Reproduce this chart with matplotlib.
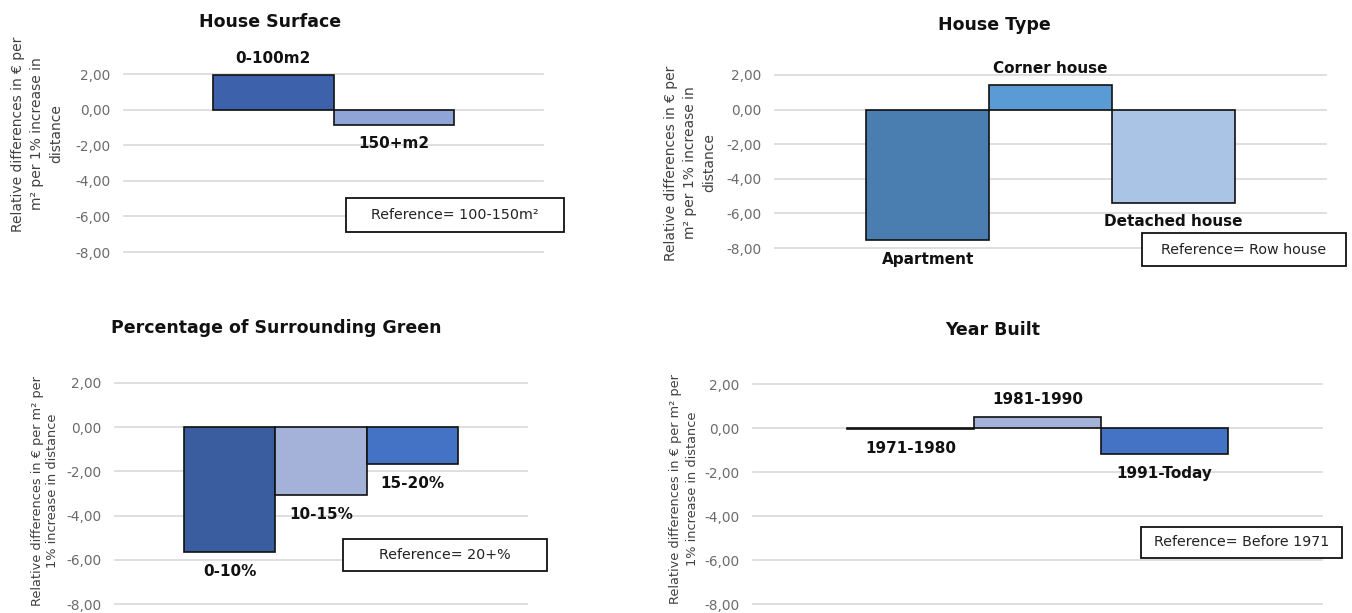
import matplotlib
matplotlib.use("Agg")
import matplotlib.pyplot as plt
import numpy as np
from matplotlib.patches import Rectangle
from matplotlib.ticker import FuncFormatter

W, H = 1352, 613

# relative differences in EUR per m2 per 1% increase in distance
surface_labels = ["0-100m2", "150+m2"]
surface_values = [1.93, -0.84]

type_labels = ["Apartment", "Corner house", "Detached house"]
type_values = [-7.55, 1.40, -5.37]

green_labels = ["0-10%", "10-15%", "15-20%"]
green_values = [-5.66, -3.08, -1.67]

year_labels = ["1971-1980", "1981-1990", "1991-Today"]
year_values = [-0.05, 0.51, -1.20]

y_ticks = [2, 0, -2, -4, -6, -8]

GRID = "#D9D9D9"
TICK = "#6B6B6B"
LABEL = "#404040"


def fx(x):
    return x / W


def fy(y):
    return 1 - y / H


def panel(fig, area, labels, values, colors, title, title_xy,
          ylabel, ylabel_xy, ylabel_style, ref_text, ref_box, half):
    left, right, top, bottom = area
    ax = fig.add_axes([fx(left), fy(bottom), fx(right - left), (bottom - top) / H])
    ax.set_ylim(-8, 2)
    ax.set_xlim(-half, half)
    ax.set_yticks(y_ticks)
    ax.yaxis.set_major_formatter(FuncFormatter(lambda v, p: f"{v:.2f}".replace(".", ",")))
    ax.set_xticks([])
    ax.tick_params(axis="y", length=0, pad=10, labelsize=9.8, labelcolor=TICK)
    for s in ax.spines.values():
        s.set_visible(False)
    ax.set_axisbelow(True)
    ax.grid(axis="y", color=GRID, lw=1.2)
    for line in ax.get_ygridlines():
        line.set_clip_on(False)

    n = len(values)
    xs = np.arange(n) - (n - 1) / 2
    ax.bar(xs, values, width=1.0, color=colors, edgecolor="#111111", lw=1.2, zorder=3)
    for x, v, lab in zip(xs, values, labels):
        off = 12.2 if v > 0 else -13.7
        ax.annotate(lab, xy=(x, v), xytext=(0, off), textcoords="offset points",
                    ha="center", va="center", fontsize=11, fontweight="bold",
                    color="#111111", annotation_clip=False)

    fig.text(fx(title_xy[0]), fy(title_xy[1]), title, ha="center", va="center",
             fontsize=12.5, fontweight="bold", color="#111111")
    size, spacing = ylabel_style
    fig.text(fx(ylabel_xy[0]), fy(ylabel_xy[1]), ylabel, rotation=90,
             ha="center", va="center", multialignment="center",
             fontsize=size, linespacing=spacing, color=LABEL)

    bx0, bx1, by0, by1 = ref_box
    fig.add_artist(Rectangle((fx(bx0), fy(by1)), fx(bx1 - bx0), (by1 - by0) / H,
                             transform=fig.transFigure, facecolor="white",
                             edgecolor="#111111", lw=1.3, zorder=5))
    fig.text(fx((bx0 + bx1) / 2), fy((by0 + by1) / 2), ref_text, ha="center",
             va="center", fontsize=10.3, color="#222222", zorder=6)
    return ax


fig = plt.figure(figsize=(W / 100, H / 100), dpi=100, facecolor="white")

panel(fig, (124, 543, 74, 252), surface_labels, surface_values,
      ["#3D61AA", "#8FA4D7"], "House Surface", (270, 22),
      "Relative differences in € per\nm² per 1% increase in\ndistance", (37, 134), (10, 1.45),
      "Reference= 100-150m²", (346, 564, 198, 232), 1.74)

panel(fig, (775, 1326, 75, 248), type_labels, type_values,
      ["#4A7DB0", "#5B9BD5", "#AAC4E5"], "House Type", (994, 25),
      "Relative differences in € per\nm² per 1% increase in\ndistance", (690, 163), (10, 1.45),
      "Reference= Row house", (1142, 1346, 233, 266), 2.245)

panel(fig, (115, 527, 383, 604), green_labels, green_values,
      ["#3A5DA0", "#A4B2D9", "#4472C4"], "Percentage of Surrounding Green", (276, 328),
      "Relative differences in € per m² per\n1% increase in distance", (45, 491), (9.3, 1.3),
      "Reference= 20+%", (343, 547, 539, 571), 2.256)

panel(fig, (753, 1322, 384, 604), year_labels, year_values,
      ["#2E4C8C", "#A4B2D9", "#4472C4"], "Year Built", (993, 330),
      "Relative differences in € per m² per\n1% increase in distance", (684, 489), (9.3, 1.3),
      "Reference= Before 1971", (1141, 1342, 527, 558), 2.245)

fig.savefig("out.png", dpi=100, facecolor="white")
